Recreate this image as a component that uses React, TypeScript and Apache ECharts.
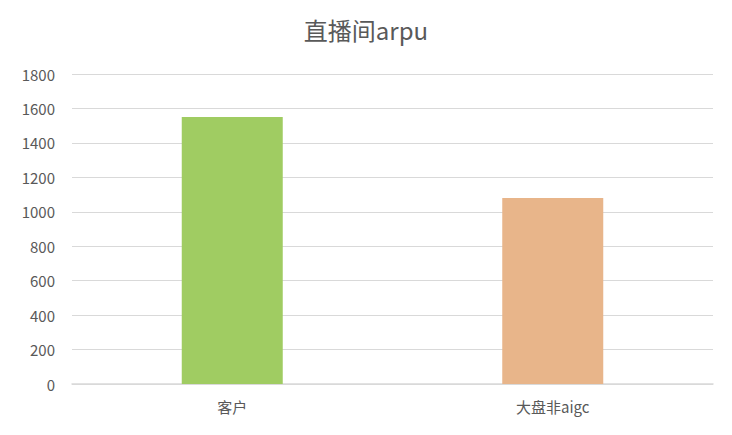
import * as echarts from "echarts";
import { useEffect, useRef } from "react";

const categories = ["客户", "大盘非aigc"];
const values = [1550, 1080];
const barColors = ["#A0CC62", "#E8B58A"];
const yTicks = { min: 0, max: 1800, interval: 200 };

function App() {
  const chartRef = useRef<HTMLDivElement>(null);

  useEffect(() => {
    const chart = echarts.init(chartRef.current, null, { renderer: "svg" });

    const font = '"Noto Sans CJK SC", "Noto Sans", sans-serif';
    chart.setOption({
      animation: false,
      backgroundColor: "#ffffff",
      title: {
        text: "直播间arpu",
        left: "center",
        top: 12,
        textStyle: { color: "#595959", fontSize: 24, fontWeight: "normal", fontFamily: font },
      },
      grid: { left: 72, right: 19, top: 74, bottom: 51 },
      xAxis: {
        type: "category",
        data: categories,
        axisLine: { lineStyle: { color: "#d9d9d9", width: 1.5 } },
        axisTick: { show: false },
        axisLabel: { color: "#595959", fontSize: 15, margin: 15, fontFamily: font },
      },
      yAxis: {
        type: "value",
        min: yTicks.min,
        max: yTicks.max,
        interval: yTicks.interval,
        axisLine: { show: false },
        axisTick: { show: false },
        axisLabel: {
          color: "#595959",
          fontSize: 15,
          margin: 17,
          fontFamily: font,
          formatter: (v: number) => String(v),
        },
        splitLine: { lineStyle: { color: "#d9d9d9", width: 1.2 } },
      },
      series: [
        {
          type: "bar",
          barWidth: 101,
          data: values.map((v, i) => ({ value: v, itemStyle: { color: barColors[i] } })),
        },
      ],
    });

    return () => {
      chart.dispose();
    };
  }, []);

  return (
    <div
      ref={chartRef}
      style={{ position: "absolute", left: 0, top: 0, width: "732px", height: "435px" }}
    />
  );
}

export default App;
